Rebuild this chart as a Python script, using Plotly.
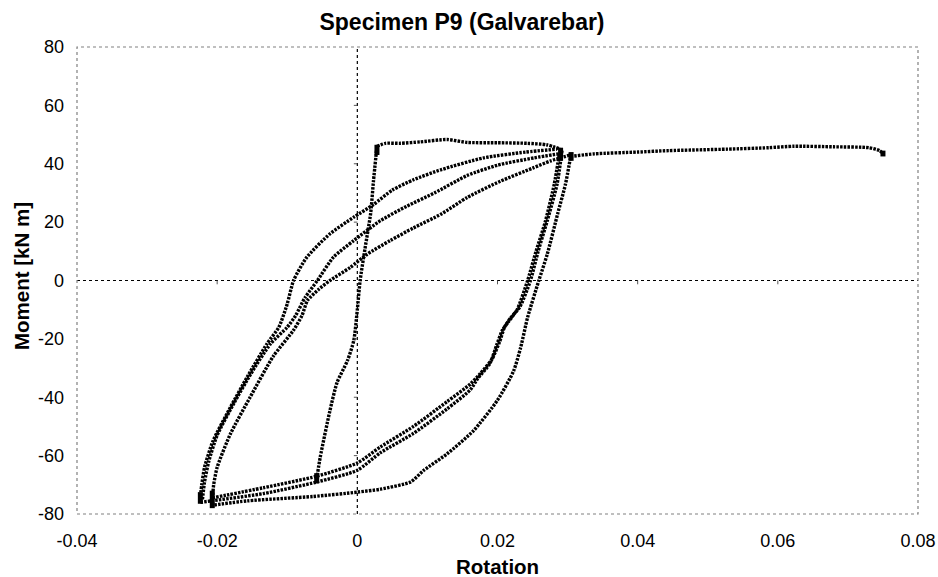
import plotly.graph_objects as go

# ---- data (rotation, moment kN m) ----
steep_x = [-0.0058, -0.0053, -0.0039, -0.0029, -0.0014, -0.0005, 0.0000, 0.0004, 0.0011, 0.0019, 0.0023, 0.0028]
steep_y = [-68, -60.6, -44.5, -35, -27.4, -20.5, -10, 0, 11, 23, 34, 46]

plateau_x = [0.0028, 0.0040, 0.0061, 0.0090, 0.0128, 0.0157, 0.0200, 0.0243, 0.0270, 0.0290]
plateau_y = [46, 47, 47, 47.5, 48.3, 47.3, 47.2, 47, 46.5, 45]

reloadA_x = [-0.0224, -0.0222, -0.0218, -0.0206, -0.0181, -0.0157, -0.0129, -0.0112, -0.0100, -0.0091, -0.0072, -0.0039, -0.0005, 0.0023, 0.0050, 0.0080, 0.0120, 0.0180, 0.0240, 0.0285]
reloadA_y = [-74, -70, -64, -55, -43.4, -33, -21.7, -16, -8, 0, 8, 16, 21.7, 26, 31, 34.5, 38, 42, 44, 45]

reloadB_x = [-0.0221, -0.0218, -0.0212, -0.0200, -0.0176, -0.0152, -0.0124, -0.0100, -0.0088, -0.0075, -0.0057, -0.0034, -0.0005, 0.0033, 0.0071, 0.0110, 0.0157, 0.0200, 0.0252, 0.0290]
reloadB_y = [-75, -69, -62, -53, -42, -32, -21.7, -16, -12, -6, 0, 8, 13.7, 20.5, 25.5, 30, 36, 39.5, 42, 43.5]

reloadC_x = [-0.0207, -0.0205, -0.0200, -0.0181, -0.0153, -0.0120, -0.0091, -0.0079, -0.0071, -0.0055, -0.0039, -0.0010, 0.0014, 0.0047, 0.0080, 0.0120, 0.0157, 0.0204, 0.0250, 0.0276, 0.0304]
reloadC_y = [-76, -70, -64, -52.5, -40, -26, -17, -12, -6.8, -3, 0, 4.5, 9, 13.7, 18, 22.8, 28.5, 34, 38.5, 41, 43]

unloadD1_x = [0.0292, 0.0285, 0.0271, 0.0258, 0.0247, 0.0232, 0.0218, 0.0210, 0.0203, 0.0192, 0.0175, 0.0161, 0.0128, 0.0080, 0.0033, 0.0000, -0.0057, -0.0134, -0.0207]
unloadD1_y = [44.5, 33, 20.5, 10, 0, -9, -13, -16, -21, -27, -32, -35.5, -41.5, -50, -57, -62.5, -67, -71, -74.5]

unloadD2_x = [0.0288, 0.0281, 0.0268, 0.0255, 0.0243, 0.0228, 0.0216, 0.0207, 0.0199, 0.0189, 0.0172, 0.0161, 0.0128, 0.0080, 0.0033, 0.0000, -0.0057, -0.0134, -0.0224]
unloadD2_y = [43, 33, 20, 10, 0, -10, -14, -17, -22, -28.5, -33.5, -37.5, -44, -52.4, -59, -65, -69, -73, -76]

unloadE_x = [0.0304, 0.0297, 0.0286, 0.0271, 0.0259, 0.0243, 0.0233, 0.0223, 0.0200, 0.0166, 0.0128, 0.0095, 0.0076, 0.0033, 0.0000, -0.0063, -0.0157, -0.0207]
unloadE_y = [42, 33, 23, 9, 0, -12.6, -23, -31, -41, -51.4, -59.4, -65, -69, -71.5, -72.5, -74, -75.5, -77]

tail_x = [0.0304, 0.0338, 0.0400, 0.0444, 0.0528, 0.0587, 0.0623, 0.0680, 0.0730, 0.0745, 0.0750]
tail_y = [42.5, 43.4, 44, 44.5, 45, 45.5, 46, 45.8, 45.5, 44.5, 43.5]

# dense clusters of points (dwell at load reversals)
cluster_x = [-0.0224, -0.0207, -0.0058, 0.0028, 0.0290, 0.0305, 0.0750]
cluster_lo = [-76.5, -78, -69.5, 43, 41, 41, 42.5]
cluster_hi = [-72.5, -72, -66, 46.5, 45.5, 44, 44.5]

x_ticks = [-0.04, -0.02, 0, 0.02, 0.04, 0.06, 0.08]
x_tick_labels = ["-0.04", "-0.02", "0", "0.02", "0.04", "0.06", "0.08"]
y_ticks = [-80, -60, -40, -20, 0, 20, 40, 60, 80]
y_tick_labels = [str(v) for v in y_ticks]

FONT = "Liberation Sans, Arial, sans-serif"

fig = go.Figure()

branches = [
    (steep_x, steep_y), (plateau_x, plateau_y),
    (reloadA_x, reloadA_y), (reloadB_x, reloadB_y), (reloadC_x, reloadC_y),
    (unloadD1_x, unloadD1_y), (unloadD2_x, unloadD2_y), (unloadE_x, unloadE_y),
    (tail_x, tail_y),
]
for bx, by in branches:
    fig.add_trace(go.Scatter(
        x=bx, y=by, mode="lines",
        line=dict(color="black", width=3.4, dash="2.5px,1.2px", shape="spline", smoothing=0.6),
        showlegend=False, hoverinfo="skip"))

cx, cy = [], []
for x, lo, hi in zip(cluster_x, cluster_lo, cluster_hi):
    cx += [x, x, None]
    cy += [lo, hi, None]
fig.add_trace(go.Scatter(x=cx, y=cy, mode="lines",
                         line=dict(color="black", width=5),
                         showlegend=False, hoverinfo="skip"))

shapes = [
    dict(type="rect", xref="paper", yref="paper", x0=0, y0=0, x1=1, y1=1,
         line=dict(color="#808080", width=1.2, dash="dot"), layer="above"),
    dict(type="line", xref="x", yref="paper", x0=0, x1=0, y0=0, y1=1,
         line=dict(color="black", width=1.2, dash="dot"), layer="below"),
    dict(type="line", xref="paper", yref="y", x0=0, x1=1, y0=0, y1=0,
         line=dict(color="black", width=1.2, dash="dot"), layer="below"),
]
for v in y_ticks:
    if v not in (0, -80, 80):
        shapes.append(dict(type="line", xref="x", yref="y", x0=-0.0005, x1=0, y0=v, y1=v,
                           line=dict(color="#555555", width=1)))
for v in x_ticks:
    if v not in (0, -0.04, 0.08):
        shapes.append(dict(type="line", xref="x", yref="y", x0=v, x1=v, y0=0, y1=-1.3,
                           line=dict(color="#555555", width=1)))

fig.update_layout(
    width=938, height=577,
    margin=dict(l=77, r=20, t=47, b=63, autoexpand=False),
    paper_bgcolor="white", plot_bgcolor="white",
    font=dict(family=FONT, color="black", size=18),
    title=dict(text="<b>Specimen P9 (Galvarebar)</b>", font=dict(family=FONT, size=23, color="black"),
               xref="container", x=462 / 938, xanchor="center",
               yref="container", y=1 - 21.5 / 577, yanchor="middle"),
    shapes=shapes,
    annotations=[
        dict(text="<b>Rotation</b>", xref="paper", yref="paper", x=0.5, y=(514 - 566) / 467,
             xanchor="center", yanchor="middle", showarrow=False,
             font=dict(family=FONT, size=20.5, color="black")),
        dict(text="<b>Moment [kN m]</b>", xref="paper", yref="paper", x=(21 - 77) / 841, y=(514 - 276) / 467,
             xanchor="center", yanchor="middle", showarrow=False, textangle=-90,
             font=dict(family=FONT, size=20.5, color="black")),
    ],
    xaxis=dict(range=[-0.04, 0.08], tickvals=x_ticks, ticktext=x_tick_labels,
               showgrid=False, zeroline=False, showline=False, ticks="",
               ticklabelstandoff=14, tickfont=dict(size=18)),
    yaxis=dict(range=[-80, 80], tickvals=y_ticks, ticktext=y_tick_labels,
               showgrid=False, zeroline=False, showline=False, ticks="",
               ticklabelstandoff=12, tickfont=dict(size=18)),
)

fig.write_html("out.html")
